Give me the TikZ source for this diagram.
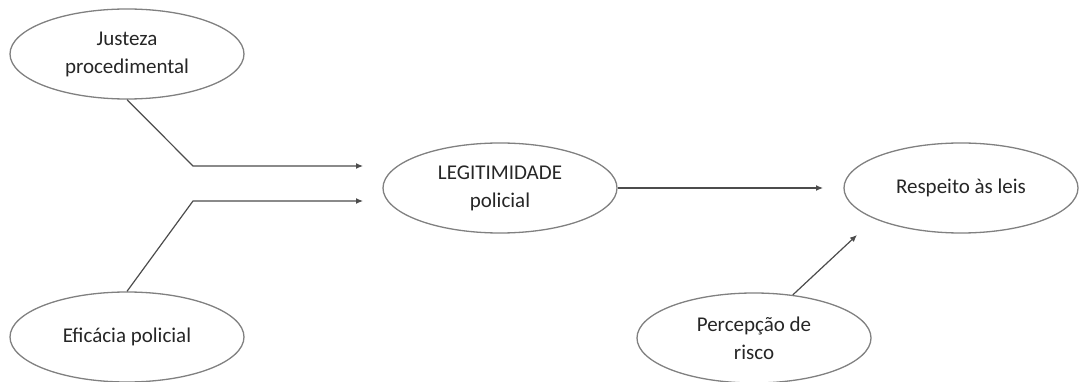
\documentclass[tikz,border=0pt]{standalone}
\usepackage{fontspec}
\setmainfont{Carlito}
\usetikzlibrary{shapes.geometric,arrows.meta}
\tikzset{
  var/.style={ellipse, draw=black!50, line width=1.3pt, minimum width=234pt, minimum height=90pt,
    inner sep=0pt, align=center, text=black!85, font=\fontsize{21}{28}\selectfont},
  link/.style={draw=black!70, line width=1.2pt, -{Latex[length=7pt,width=6pt]}}
}
\begin{document}
\begin{tikzpicture}[x=1pt,y=-1pt]
  \useasboundingbox (0,0) rectangle (1079,382);
  \node[var] (justeza) at (127,54) {Justeza\\procedimental};
  \node[var] (eficacia) at (127,337) {Eficácia policial};
  \node[var] (legit) at (500,188) {LEGITIMIDADE\\policial};
  \node[var] (respeito) at (961,188) {Respeito às leis};
  \node[var] (risco) at (754,338) {Percepção de\\risco};
  \coordinate (jbend) at (193,166);
  \coordinate (jtip) at (363,166);
  \coordinate (ebend) at (193,201);
  \coordinate (etip) at (363,201);
  \coordinate (ltip) at (823,188);
  \coordinate (rtip) at (857,235);
  \draw[link] (justeza.south) -- (jbend) -- (jtip);
  \draw[link] (eficacia.north) -- (ebend) -- (etip);
  \draw[link] (legit.east) -- (ltip);
  \draw[link] (risco.48) -- (rtip);
\end{tikzpicture}
\end{document}
